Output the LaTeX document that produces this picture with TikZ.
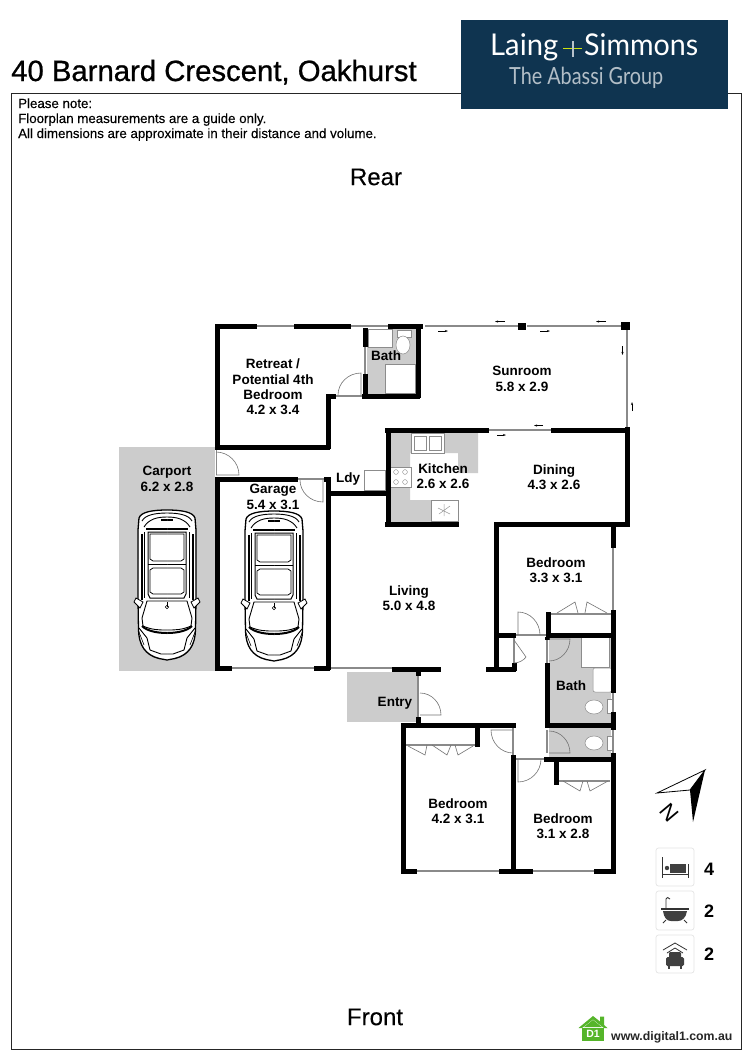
\documentclass[tikz,border=0pt]{standalone}
\usepackage{fontspec}
\setmainfont{Liberation Sans}
\newfontfamily\logofont{Lato}
\newfontfamily\titlefont[FakeBold=0.8]{Liberation Sans}
\newfontfamily\notefont[FakeBold=0.12]{Liberation Sans}
\usetikzlibrary{calc,arrows.meta}
\definecolor{navy}{HTML}{0F3450}
\definecolor{floorgrey}{HTML}{CCCCCC}
\definecolor{glassgrey}{HTML}{8A8A8A}
\definecolor{dgreen}{HTML}{55B52A}
\tikzset{
 wall/.style={line width=5pt,black},
 glass/.style={line width=2pt,glassgrey},
 doorline/.style={line width=0.6pt,black!55},
 fixture/.style={draw=black!45,line width=0.5pt,fill=white},
 room/.style={font=\bfseries\fontsize{13.5}{15.4}\selectfont,align=center,inner sep=0pt},
 slidearrow/.style={line width=0.5pt,-{Stealth[length=3pt,width=2pt]}},
 iconbox/.style={draw=black!10,line width=0.7pt,rounded corners=2.5pt,fill=white},
 carhalf/.pic={
  \fill[white] (0,0) .. controls (15,0) and (26,2) .. (28,8) -- (29,90) -- (28,120) .. controls (28,135) and (22,145) .. (0,150) -- cycle;
  \draw[line width=1.3pt] (0,0) .. controls (15,0) and (26,2) .. (28,8) -- (29,20) -- (29,90) -- (28.5,120) .. controls (28,135) and (22,145) .. (8,148.5) -- (0,150);
  \draw[line width=.9pt] (0,3) .. controls (12,3) and (22,5) .. (25,11);
  \draw[line width=.9pt] (0,7) .. controls (10,7) and (18,9) .. (23,17);
  \draw[line width=1.5pt] (0,10) -- (6,10);
  \draw[line width=1.5pt] (0,19) -- (21,19);
  \draw[line width=1pt] (0,22) -- (19,22) -- (19,84) -- (17,88) -- (0,88);
  \draw[line width=.8pt] (0,24) -- (17,24) -- (17,49) -- (14,51) -- (0,51);
  \draw[line width=.8pt] (0,58) -- (14,58) -- (17,60) -- (17,82) -- (14,84) -- (0,84);
  \draw[line width=.6pt] (0,54) -- (19,54);
  \draw[line width=2pt] (25.5,24) -- (25.5,90);
  \draw[line width=.8pt] (22.5,22) -- (22.5,88);
  \draw[line width=.9pt] (0,91) -- (20,91) -- (25,108) -- (24,116) .. controls (15,120) and (8,120) .. (0,120);
  \draw[line width=2pt] (0,123) .. controls (10,123) and (20,121) .. (25,116);
  \draw[line width=.9pt] (28,118) -- (20,128) -- (17,140) -- (6,144) -- (0,144);
  \draw[line width=.6pt] (28,122) -- (23,135);
  \draw[line width=.8pt,fill=white] (24,92) -- (31,88) -- (33,92) -- (27,98) -- cycle;
  \draw[line width=.6pt] (0,92) -- (0,97);
 },
 car/.pic={
  \pic {carhalf};
  \pic[xscale=-1] {carhalf};
  \draw[line width=.6pt] (0,97) circle (1.8);
 }
}
\newcommand{\doorq}[6]{%
 \draw[doorline] (#1,#2) -- (#3,#4) .. controls ($(#3,#4)+0.55*(#5,#6)-0.55*(#1,#2)$) and ($(#5,#6)+0.55*(#3,#4)-0.55*(#1,#2)$) .. (#5,#6);}
\begin{document}
\begin{tikzpicture}[x=1pt,y=-1pt]
\useasboundingbox (0,0) rectangle (750,1061);
\fill[white] (0,0) rectangle (750,1061);
% frame
\draw[line width=1pt,black!85] (11,93) rectangle (741,1049);
% logo
\fill[navy] (461,20) rectangle (728,109);
\node[inner sep=0pt,anchor=base west] (logoA) at (490,55.5) {\color{white}\logofont\fontsize{30}{30}\selectfont\scalebox{.975}[1]{Laing}};
\node[inner sep=0pt,anchor=base west] (logoC) at (584,55.5) {\color{white}\logofont\fontsize{30}{30}\selectfont\scalebox{.955}[1]{Simmons}};
\draw[line width=1.1pt,color=yellow!80!green] (563,48.5) -- (582,48.5);
\draw[line width=1.1pt,color=white!70!navy] (573,41) -- (573,57);
\node[inner sep=0pt,anchor=base west] (logoB) at (509,84) {\color{white!68!navy}\logofont\fontsize{23.6}{24}\selectfont\scalebox{.84}[1]{The Abassi Group}};
% title and notes
\node[inner sep=0pt,anchor=base west] (title) at (11,81) {\titlefont\fontsize{29.3}{30}\selectfont 40 Barnard Crescent, Oakhurst};
\node[inner sep=0pt,anchor=base west] (n1) at (18,108) {\notefont\fontsize{13.3}{14}\selectfont Please note:};
\node[inner sep=0pt,anchor=base west] (n2) at (18,123) {\notefont\fontsize{13.3}{14}\selectfont Floorplan measurements are a guide only.};
\node[inner sep=0pt,anchor=base west] (n3) at (18,138) {\notefont\fontsize{13.3}{14}\selectfont All dimensions are approximate in their distance and volume.};
\node[inner sep=0pt] (rear) at (376,177) {\notefont\fontsize{24}{26}\selectfont Rear};
\node[inner sep=0pt] (front) at (375,1017) {\notefont\fontsize{24}{26}\selectfont Front};
% grey floors
\fill[floorgrey] (119,447) rectangle (215,671);
\fill[floorgrey] (347,672) rectangle (417,722);
\fill[floorgrey] (390,433) -- (478,433) -- (478,473) -- (458,473) -- (458,453) -- (410,453) -- (410,500) -- (431,500) -- (431,522) -- (390,522) -- cycle;
\fill[floorgrey] (367,329) rectangle (416,394);
\fill[floorgrey] (549,637) rectangle (611,723);
\fill[floorgrey] (549,728) rectangle (611,757);
% fixtures
\draw[fixture] (368,329) rectangle (392,347);
\draw[fixture] (385,364) rectangle (415,393);
\draw[fixture] (397,330) rectangle (411,337);
\draw[fixture] (403,345) ellipse (7 and 9);
\draw[fixture] (411,433) rectangle (444,453);
\draw[fixture] (414,436) rectangle (426,450) (429,436) rectangle (441,450);
\draw[fixture] (390,467) rectangle (411,487);
\foreach \a/\b in {396/472,405/472,396/482,405/482}{\draw[black!45,line width=.4pt] (\a,\b) circle (2.4);}
\draw[fixture] (431,500) rectangle (458,521);
\draw[black!40,line width=.5pt] (438,508) -- (450,514) (450,506) -- (439,514) (444,504) -- (444,516);
\draw[fixture] (364,470) rectangle (385,490);
\draw[fixture] (581,637) rectangle (609,667);
\draw[fixture,rounded corners=2pt] (593,668) rectangle (612,692);
\draw[fixture] (607,699) rectangle (612,713);
\draw[fixture] (594,707) ellipse (9 and 7);
\draw[fixture] (607,736) rectangle (612,750);
\draw[fixture] (594,743) ellipse (9 and 7);
% glass
\draw[glass] (257,326) -- (294,326);
\draw[glass] (351,326) -- (388,326);
\draw[glass] (425,326) -- (520,326);
\draw[glass] (527,326) -- (624,326);
\draw[glass] (627,329) -- (627,428);
\draw[glass] (489,430) -- (551,430);
\draw[glass] (232,668) -- (314,668);
\draw[glass] (330,668) -- (392,668);
\draw[glass] (418,676) -- (418,717);
\draw[glass] (417,871) -- (499,871);
\draw[glass] (533,871) -- (594,871);
\draw[glass] (613,548) -- (613,610);
\draw[glass] (613,693) -- (613,712);
\draw[glass] (613,730) -- (613,753);
\draw[glass] (550,614) -- (612,614);
\draw[glass] (405,745) -- (475,745);
\draw[glass] (558,781) -- (610,781);
% door jambs
\draw[line width=1.6pt,glassgrey] (336,396) -- (362,396);
\draw[line width=1.6pt,glassgrey] (365,347) -- (365,374);
\draw[line width=1.6pt,glassgrey] (216.5,450) -- (216.5,475);
\draw[line width=1.6pt,glassgrey] (298,479) -- (324,479);
\draw[line width=1.6pt,glassgrey] (516,635) -- (546,635);
\draw[line width=1.6pt,glassgrey] (514,638) -- (514,663);
\draw[line width=1.6pt,glassgrey] (547,640) -- (547,663);
\draw[line width=1.6pt,glassgrey] (547,730) -- (547,753);
\draw[line width=1.6pt,glassgrey] (513,727) -- (513,755);
\draw[line width=1.6pt,glassgrey] (516,759) -- (544,759);
% walls
\draw[wall] (215,326) -- (257,326) (294,326) -- (351,326) (388,326) -- (423,326);
\draw[wall] (217.5,324) -- (217.5,449);
\draw[wall] (215,447) -- (330,447);
\draw[wall] (328,449) -- (328,394);
\draw[wall] (326,396) -- (336,396);
\draw[wall] (362,396) -- (420,396);
\draw[wall] (418,398) -- (418,326);
\draw[wall] (365,328) -- (365,347) (365,374) -- (365,396);
\draw[wall] (385,430) -- (489,430) (551,430) -- (630,430);
\draw[wall] (388,428) -- (388,526);
\draw[wall] (385,524) -- (459,524);
\draw[wall] (494,524) -- (630,524);
\draw[wall] (627,427) -- (627,526);
\draw[wall] (215,479) -- (298,479) (324,479) -- (330,479);
\draw[wall] (217.5,477) -- (217.5,670);
\draw[wall] (328,477) -- (328,670);
\draw[wall] (215,668) -- (232,668) (314,668) -- (330,668);
\draw[wall] (328,493) -- (388,493);
\draw[wall] (392,669) -- (441,669);
\draw[wall] (418,669) -- (418,676) (418,717) -- (418,723);
\draw[wall] (401,725) -- (516,725);
\draw[wall] (403,723) -- (403,873);
\draw[wall] (401,871) -- (417,871) (499,871) -- (533,871) (594,871) -- (616,871);
\draw[wall] (513,755) -- (513,873);
\draw[wall] (477,725) -- (477,747);
\draw[wall] (613,522) -- (613,548) (613,610) -- (613,693) (613,712) -- (613,730) (613,753) -- (613,873);
\draw[wall] (496,522) -- (496,671);
\draw[wall] (494,635) -- (516,635);
\draw[wall] (546,635) -- (615,635);
\draw[wall] (548,612) -- (548,637);
\draw[wall] (486,669) -- (516,669);
\draw[wall] (514,663) -- (514,671);
\draw[wall] (547,637) -- (547,640) (547,663) -- (547,727);
\draw[wall] (545,725) -- (615,725);
\draw[wall] (544,759) -- (615,759);
\draw[wall] (556,759) -- (556,784);
\draw[wall] (554,782) -- (559,782);
% posts
\fill (518,322.5) rectangle (526,329.5);
\fill (621,322) rectangle (630,330);
% doors
\doorq{361}{395}{361}{373}{338}{395}
\doorq{216}{475}{239}{475}{216}{452}
\doorq{323}{480}{323}{502}{300}{480}
\doorq{518}{635}{518}{612}{540}{635}
\doorq{549}{639}{570}{639}{549}{661}
\doorq{549}{753}{570}{753}{549}{731}
\doorq{420}{715}{441}{715}{420}{693}
\doorq{513}{730}{491}{730}{513}{753}
\doorq{518}{759}{518}{782}{541}{759}
\draw[doorline] (514,640) -- (526,657) .. controls (524,660) and (519,663) .. (514,663);
% bifold doors
\draw[doorline] (557,613) -- (575,602) -- (578,613) (585,613) -- (587,602) -- (607,613);
\draw[doorline] (408,746) -- (425,755) -- (427,745) (432,745) -- (447,755) -- (451,745) (455,745) -- (458,755) -- (473,746);
\draw[doorline] (563,781) -- (580,791) -- (583,781) (587,781) -- (590,791) -- (608,781);
% slide arrows
\draw[slidearrow] (505,321.5) -- (495,321.5);
\draw[slidearrow] (606,321.5) -- (596,321.5);
\draw[slidearrow] (438,331) -- (448,331);
\draw[slidearrow] (540,331) -- (550,331);
\draw[slidearrow] (622.5,346) -- (622.5,355);
\draw[slidearrow] (632,411) -- (632,402);
\draw[slidearrow] (543,425.5) -- (534,425.5);
\draw[slidearrow] (497,435) -- (506,435);
% cars
\pic at (167,510) {car};
\pic at (274,511) {car};
% labels
\node[room] (retreat) at (273,387) {Retreat /\\Potential 4th\\Bedroom\\4.2 x 3.4};
\node[room] (bath1) at (386,356) {Bath};
\node[room] (sunroom) at (522,379) {Sunroom\\5.8 x 2.9};
\node[room] (carport) at (167,479) {Carport\\6.2 x 2.8};
\node[room] (garage) at (273,497) {Garage\\5.4 x 3.1};
\node[room] (ldy) at (348,479) {Ldy};
\node[room] (kitchen) at (443,476) {Kitchen\\2.6 x 2.6};
\node[room] (dining) at (554,477) {Dining\\4.3 x 2.6};
\node[room] (bed33) at (556,570) {Bedroom\\3.3 x 3.1};
\node[room] (living) at (409,598) {Living\\5.0 x 4.8};
\node[room] (entry) at (395,703) {Entry};
\node[room] (bath2) at (571,686) {Bath};
\node[room] (bed42) at (458,811) {Bedroom\\4.2 x 3.1};
\node[room] (bed31) at (563,826) {Bedroom\\3.1 x 2.8};
% compass
\draw[line width=.8pt,fill=white] (705,770) -- (657,793) -- (690,790) -- cycle;
\fill (705,770) -- (690,790) -- (693,822) -- cycle;
\node[inner sep=0pt,rotate=-50] (north) at (669.5,813) {\fontsize{22}{22}\selectfont N};
% icons
\draw[iconbox] (656,848) rectangle (694,886);
\draw[iconbox] (656,891) rectangle (694,930);
\draw[iconbox] (656,935) rectangle (694,973);
\draw[black!80,line width=1pt] (662,857) -- (662,878) (688,864) -- (688,878) (662,874) -- (688,874);
\fill[black!75] (670,864) rectangle (686,873);
\fill[black!75] (667,868) circle (2.2);
\draw[black!80,line width=1.1pt] (661,909) -- (689,909);
\fill[black!75] (663,911) -- (687,911) .. controls (686,918) and (682,921) .. (678,921) -- (671,921) .. controls (667,921) and (664,918) .. (663,911) -- cycle;
\draw[black!80,line width=.9pt] (666,909) -- (666,899) .. controls (666,897) and (669,897) .. (670,899);
\draw[black!80,line width=.9pt] (666,920) -- (663,923) (684,920) -- (687,923);
\draw[black!80,line width=.8pt] (663,950) -- (675,943) -- (687,950);
\draw[black!80,line width=.8pt] (667,953) -- (675,948) -- (683,953);
\fill[black!75,rounded corners=1.5pt] (666,957) rectangle (684,966);
\fill[black!75,rounded corners=1pt] (669,952) rectangle (681,958);
\draw[black!75,line width=1.1pt] (669,966) -- (669,968.5) (681,966) -- (681,968.5);
\node[inner sep=0pt,font=\bfseries\fontsize{18}{18}\selectfont] (c1) at (709,869) {4};
\node[inner sep=0pt,font=\bfseries\fontsize{18}{18}\selectfont] (c2) at (709,911) {2};
\node[inner sep=0pt,font=\bfseries\fontsize{18}{18}\selectfont] (c3) at (709,954) {2};
% D1
\fill[dgreen] (582,1028) -- (582,1041) -- (604,1041) -- (604,1028) -- cycle;
\fill[dgreen] (578.5,1028) -- (593,1016) -- (600,1021.5) -- (600,1016.5) -- (604,1016.5) -- (604,1025) -- (607.5,1028) -- (604,1028) -- (593,1019.5) -- (582,1028) -- cycle;
\fill[dgreen] (584,1027) -- (593,1020) -- (602,1027) -- cycle;
\node[inner sep=0pt,text=white,font=\bfseries\fontsize{10.5}{10.5}\selectfont] (d1) at (593,1033.5) {D1};
\node[inner sep=0pt,anchor=base west,font=\bfseries\fontsize{12.3}{14}\selectfont,text=black!85] (web) at (611,1040) {www.digital1.com.au};
\end{tikzpicture}
\end{document}
